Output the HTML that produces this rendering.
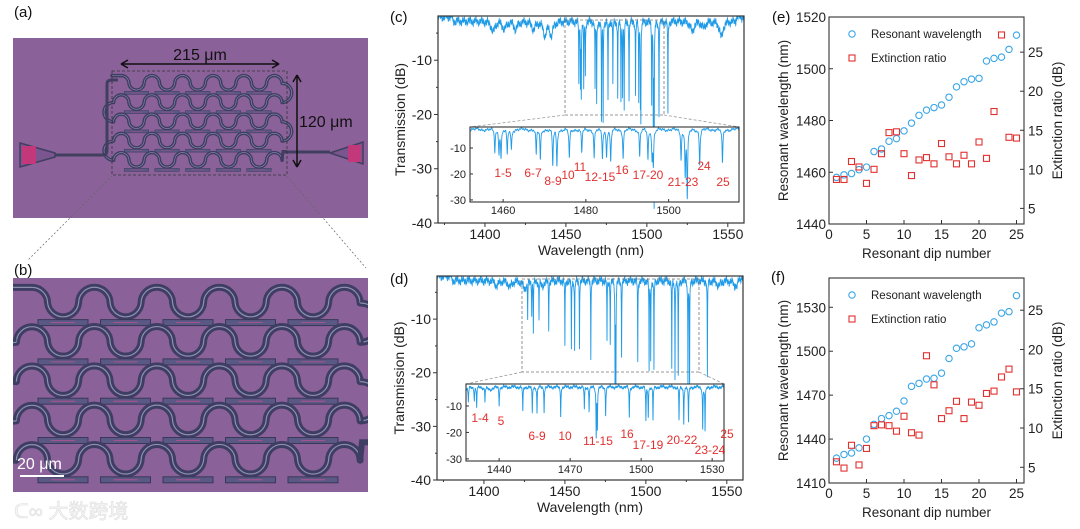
<!DOCTYPE html>
<html><head><meta charset="utf-8">
<style>
html,body{margin:0;padding:0;background:#fff;}
svg{display:block;font-family:"Liberation Sans",Arial,sans-serif;}
</style></head>
<body>
<svg id="fig" width="1080" height="529" viewBox="0 0 1080 529" xmlns="http://www.w3.org/2000/svg">
<defs>
<clipPath id="clipC"><rect x="438" y="16" width="306" height="207"/></clipPath>
<clipPath id="clipCi"><rect x="470" y="127" width="269" height="75"/></clipPath>
<clipPath id="clipD"><rect x="437" y="276" width="306" height="204"/></clipPath>
<clipPath id="clipDi"><rect x="466" y="384" width="258" height="77"/></clipPath>
<clipPath id="clipB"><rect x="13" y="278" width="355" height="214"/></clipPath>
</defs>
<g id="root"></g>
</svg>
<script>
// ---------- data ----------
const dipNumbers = [1,2,3,4,5,6,7,8,9,10,11,12,13,14,15,16,17,18,19,20,21,22,23,24,25];
const wlE = [1458,1459,1459.5,1461,1462,1468,1469,1472,1473,1476,1479,1482,1484,1485,1486,1489,1493,1495,1496,1496.3,1503,1504,1504.5,1507.5,1513];
const erE = [8.7,8.7,11,10.3,8.2,10,12,14.7,14.8,12,9.2,11.2,11.5,10.7,13.3,11.6,10.7,11.8,10.7,13.5,11.4,17.4,27.2,14.1,14];
const wlF = [1427,1429.5,1430.5,1434,1440,1450,1454,1456,1459,1466,1476,1478,1481,1481.5,1485,1495,1502,1503,1505,1516,1518,1520,1526,1527,1538];
const erF = [5.7,4.9,7.8,5.3,7.4,10.3,10.4,10.3,9.6,11.5,9.4,9.1,19.2,15.5,11.2,12.2,13.4,11.2,13.3,12.9,14.4,14.7,16.5,17.5,14.6];
const broadC = [1405,1412,1419,1430,1437,1441,1528,1535,1546];
const broadCDepth = [2,1.5,1.5,1.5,2.5,2.5,2,1.2,3];
const broadD = [1408,1416,1425,1436,1545,1556];
const broadDDepth = [1,1.2,1.5,1,1,2];
const specTicksX = [1400,1450,1500,1550];
const specTicksY = [-10,-20,-30,-40];
const insetCTicksX = [1460,1480,1500];
const insetDTicksX = [1440,1470,1500,1530];
const insetTicksY = [-10,-20,-30];
const labelsC = ["1-5","6-7","8-9","10","11","12-15","16","17-20","21-23","24","25"];
const labelsCpos = [[503,173],[533,173],[553,181],[568,175],[580,167],[600,177],[622,170],[648,175],[683,182],[704,166],[723,182]];
const labelsD = ["1-4","5","6-9","10","11-15","16","17-19","20-22","23-24","25"];
const labelsDpos = [[480,418],[501,421],[537,436],[565,436],[598,441],[627,434],[648,445],[682,440],[710,450],[727,434]];
const dipTicksX = [0,5,10,15,20,25];
const eLeftTicks = [1440,1460,1480,1500,1520];
const fLeftTicks = [1410,1440,1470,1500,1530];
const rightTicks = [5,10,15,20,25];

// ---------- helpers ----------
const NS = "http://www.w3.org/2000/svg";
const root = document.getElementById('root');
function mk(tag, attrs, parent, text){
  const e = document.createElementNS(NS, tag);
  for (const k in attrs) e.setAttribute(k, attrs[k]);
  if (text !== undefined) e.textContent = text;
  (parent || root).appendChild(e);
  return e;
}
function lin(d0,d1,r0,r1){ return v => r0 + (v-d0)*(r1-r0)/(d1-d0); }
const BLUE = "#1f9be8", RED = "#e2302f";

// ---------- micrographs ----------
function buildMesh(g){
  const R = 15.6, pitch = 39.3;
  for (let r=0;r<5;r++){
    const y0 = 303 + pitch*r;
    let segs = [];
    for (let k=0;k<5;k++){ segs.push(['u',32+62.5*k]); segs.push(['d',63+62.5*k]); }
    segs.push(['u',344.5]);
    let d;
    if (r===0) d = `M13 ${y0-R} L32 ${y0-R} A${R} ${R} 0 0 1 ${32+R} ${y0} `;
    else d = `M${32-R} ${y0} A${R} ${R} 0 0 1 ${32+R} ${y0} `;
    for (let i=1;i<segs.length;i++){
      const [t,c] = segs[i];
      d += `A${R} ${R} 0 0 ${t==='u'?1:0} ${c+R} ${y0} `;
    }
    const p = mk('path',{d:d,fill:'none',stroke:'#3e3d63','stroke-width':7,'stroke-linecap':'round'},g);
    
    
    mk('path',{d:d,fill:'none',stroke:'#8f8fb0','stroke-width':1.2},g);
    for (let k=0;k<5;k++){
      const c = 63+62.5*k;
      const pad = mk('rect',{x:c-25,y:y0+R+1,width:50,height:6,fill:'#5a5885',stroke:'#3a3858','stroke-width':1},g);
      
      
      mk('line',{x1:c-12,y1:y0+R+4,x2:c+12,y2:y0+R+4,stroke:'#c05090','stroke-width':0.8},g);
    }
    if (r<4){
      const side = (r%2===0) ? 344.5+R : 32-R;
      const rr = pitch/2;
      const dl = `M${side} ${y0} A${rr} ${rr} 0 0 ${r%2===0?1:0} ${side} ${y0+pitch}`;
      mk('path',{d:dl,fill:'none',stroke:'#3e3d63','stroke-width':7},g);
      mk('path',{d:dl,fill:'none',stroke:'#8f8fb0','stroke-width':1.2},g);
    }
  }
  mk('path',{d:`M${344.5+15.6} ${303+pitch*4} L362 ${303+pitch*4-18} L370 ${303+pitch*4-18}`,fill:'none',stroke:'#3e3d63','stroke-width':6},g);
}
// panel b
const pb = mk('g',{});
mk('rect',{x:13,y:278,width:355,height:214,fill:'#8b6199'},pb);
const mesh = mk('g',{id:'mesh','clip-path':'url(#clipB)'},pb);
buildMesh(mesh);
mk('line',{x1:20,y1:476,x2:64,y2:476,stroke:'#fff','stroke-width':2,},pb);
mk('text',{x:17,y:469,'font-size':16,fill:'#fff',},pb,'20 μm');
// panel a
const pa = mk('g',{});
mk('rect',{x:13,y:38,width:355,height:180,fill:'#8b6199'},pa);
const ua = mk('g',{transform:'translate(105.6,-65.2) scale(0.49)'},pa);
buildMesh(ua);
mk('path',{d:'M20 143 L55 153 L55 157 L20 167 Z',fill:'#7a5590',stroke:'#403f60','stroke-width':1.5},pa);
mk('rect',{x:22,y:146,width:14,height:18,fill:'#c2387a'},pa);
mk('path',{d:'M55 155 L103 155 Q107 155 107 150 L107 84 Q107 80 112 80 L118 80',fill:'none',stroke:'#403f60','stroke-width':3},pa);
mk('path',{d:'M283 152 L330 152',fill:'none',stroke:'#403f60','stroke-width':3},pa);
mk('path',{d:'M330 153 L363 142 L363 164 Z',fill:'#7a5590',stroke:'#403f60','stroke-width':1.5},pa);
mk('rect',{x:348,y:145,width:13,height:17,fill:'#c2387a'},pa);
mk('rect',{x:112,y:71,width:175,height:104,fill:'none',stroke:'#333','stroke-width':0.8,'stroke-dasharray':'3,2',},pa);
mk('path',{d:'M121 64 L279 64 M121 64 l7 -4 M121 64 l7 4 M279 64 l-7 -4 M279 64 l-7 4',stroke:'#111','stroke-width':1.5,fill:'none',},pa);
mk('text',{x:200,y:60,'font-size':16,'text-anchor':'middle',fill:'#111',},pa,'215 μm');
mk('path',{d:'M297 75 L297 167 M297 75 l-4 7 M297 75 l4 7 M297 167 l-4 -7 M297 167 l4 -7',stroke:'#111','stroke-width':1.5,fill:'none',},pa);
mk('text',{x:299,y:127,'font-size':16,fill:'#111',},pa,'120 μm');
mk('path',{d:'M112 176 L28 260 M287 176 L366 268',stroke:'#666','stroke-width':0.7,'stroke-dasharray':'2,2',fill:'none'});
// watermark
mk('text',{x:14,y:518,'font-size':20,fill:'#f6f6f6',stroke:'#dedede','stroke-width':0.6,'font-family':'"Liberation Sans","Noto Sans CJK SC",sans-serif',},root,'ᑕ∞ 大数跨境');

// panel letters
[['(a)',14,17],['(b)',14,275],['(c)',390,22],['(d)',390,284],['(e)',772,22],['(f)',771,282]].forEach(p=>{
  const t = mk('text',{x:p[1],y:p[2],'font-size':15,fill:'#111'},root,p[0]);
  
  
});

// ---------- spectra ----------
function trans(l, wls, ers, bw, bd, scale){
  let t = -2.8 + 0.35*Math.sin(l*1.7) + 0.25*Math.sin(l*5.3) + 0.3*Math.sin(l*13.1);
  if (l < 1380 || l > 1555) t += 0.8;
  for (let i=0;i<bw.length;i++){ const d=(l-bw[i])/1.2; t -= bd[i]/(1+d*d); }
  for (let i=0;i<wls.length;i++){ const d=(l-wls[i])/0.12; t -= ers[i]*scale/(1+d*d); }
  return t;
}
function drawSpectrum(g, x0,x1,px0,px1, y0,y1,py0,py1, clip, wls, ers, bw, bd, scale, step){
  const sx = lin(x0,x1,px0,px1), sy = lin(y0,y1,py0,py1);
  let d = "";
  for (let l=x0;l<=x1;l+=step){
    const v = Math.max(trans(l,wls,ers,bw,bd,scale), y0);
    d += (d?"L":"M") + sx(l).toFixed(2)+" "+sy(v).toFixed(2)+" ";
  }
  const p = mk('path',{d:d,fill:'none',stroke:BLUE,'stroke-width':0.9,'clip-path':clip},g);
  
  
}
function specPanel(name, fr, ins, box, wls, ers, bw, bd, insTicks, labels, lpos){
  const g = mk('g',{});
  
  
  const sx = lin(fr.x0,fr.x1,fr.l,fr.r), sy = lin(fr.y0,fr.y1,fr.b,fr.t);
  drawSpectrum(g, fr.x0,fr.x1,fr.l,fr.r, fr.y0,fr.y1,fr.b,fr.t, fr.clip, wls, ers, bw, bd, 1.25, 0.04);
  mk('rect',{x:fr.l,y:fr.t,width:fr.r-fr.l,height:fr.b-fr.t,fill:'none',stroke:'#333','stroke-width':1.2},g);
  specTicksY.forEach(v=>{
    mk('line',{x1:fr.l,y1:sy(v),x2:fr.l-4,y2:sy(v),stroke:'#333'},g);
    mk('line',{x1:fr.l,y1:sy(v+5),x2:fr.l-2,y2:sy(v+5),stroke:'#333'},g);
    const t = mk('text',{x:fr.l-6,y:sy(v)+5,'font-size':14,'text-anchor':'end',fill:'#222'},g,String(v));
     
  });
  specTicksX.forEach(v=>{
    mk('line',{x1:sx(v),y1:fr.b,x2:sx(v),y2:fr.b+4,stroke:'#333'},g);
    mk('line',{x1:sx(v-25),y1:fr.b,x2:sx(v-25),y2:fr.b+2,stroke:'#333'},g);
    const t = mk('text',{x:sx(v),y:fr.b+16,'font-size':14,'text-anchor':'middle',fill:'#222'},g,String(v));
     
  });
  const xt = mk('text',{x:(fr.l+fr.r)/2,y:fr.b+32,'font-size':14,'text-anchor':'middle',fill:'#222'},g,'Wavelength (nm)');
   
  const cy = (fr.t+fr.b)/2;
  const yt = mk('text',{x:0,y:0,transform:`translate(${fr.l-33},${cy}) rotate(-90)`,'font-size':14,'text-anchor':'middle',fill:'#222'},g,'Transmission (dB)');
   
  mk('rect',{x:box[0],y:box[1],width:box[2]-box[0],height:box[3]-box[1],fill:'none',stroke:'#777','stroke-width':0.8,'stroke-dasharray':'3,2'},g);
  mk('path',{d:`M${box[0]} ${box[3]} L${ins.l} ${ins.t} M${box[2]} ${box[3]} L${ins.r} ${ins.t}`,stroke:'#999','stroke-width':0.8,'stroke-dasharray':'3,2',fill:'none'},g);
  const ig = mk('g',{},g);
  
  
  mk('rect',{x:ins.l,y:ins.t,width:ins.r-ins.l,height:ins.b-ins.t,fill:'#fff'},ig);
  drawSpectrum(ig, ins.x0,ins.x1,ins.l,ins.r, ins.y0,ins.y1,ins.b,ins.t, ins.clip, wls, ers, bw, bd, 0.95, 0.01);
  mk('rect',{x:ins.l,y:ins.t,width:ins.r-ins.l,height:ins.b-ins.t,fill:'none',stroke:'#333','stroke-width':1.1},ig);
  const isx = lin(ins.x0,ins.x1,ins.l,ins.r), isy = lin(ins.y0,ins.y1,ins.b,ins.t);
  insetTicksY.forEach(v=>{
    mk('line',{x1:ins.l,y1:isy(v),x2:ins.l+3,y2:isy(v),stroke:'#333'},ig);
    mk('text',{x:ins.l-4,y:isy(v)+4,'font-size':11,'text-anchor':'end',fill:'#222'},ig,String(v));
  });
  insTicks.forEach(v=>{
    mk('line',{x1:isx(v),y1:ins.b,x2:isx(v),y2:ins.b-3,stroke:'#333'},ig);
    mk('text',{x:isx(v),y:ins.b+12,'font-size':11,'text-anchor':'middle',fill:'#222'},ig,String(v));
  });
  labels.forEach((s,i)=>{
    const t = mk('text',{x:lpos[i][0],y:lpos[i][1]+4,'font-size':12,'text-anchor':'middle',fill:RED},ig,s);
    
    
  });
}
specPanel('spectrum-c',
  {x0:1371,x1:1560,l:438,r:744,y0:-40,y1:-1.85,t:16,b:223,clip:'url(#clipC)'},
  {x0:1452,x1:1517,l:470,r:739,y0:-30.8,y1:-1.9,t:127,b:202,clip:'url(#clipCi)'},
  [565,20,664,115], wlE, erE, broadC, broadCDepth, insetCTicksX, labelsC, labelsCpos);
specPanel('spectrum-d',
  {x0:1371,x1:1560,l:437,r:743,y0:-40,y1:-1.96,t:276,b:480,clip:'url(#clipD)'},
  {x0:1426,x1:1535,l:466,r:724,y0:-30.8,y1:-1.7,t:384,b:461,clip:'url(#clipDi)'},
  [522,279,699,372], wlF, erF, broadD, broadDDepth, insetDTicksX, labelsD, labelsDpos);

// ---------- scatter panels ----------
function scatterPanel(name, fr, wl, er, leftTicks){
  const g = mk('g',{});
  
  
  const sx = lin(0,26,fr.l,fr.r), sy = lin(fr.ly0,fr.ly1,fr.b,fr.t), sr = lin(fr.ry0,fr.ry1,fr.b,fr.t);
  mk('rect',{x:fr.l,y:fr.t,width:fr.r-fr.l,height:fr.b-fr.t,fill:'none',stroke:'#333','stroke-width':1.1},g);
  leftTicks.forEach(v=>{
    mk('line',{x1:fr.l,y1:sy(v),x2:fr.l+4,y2:sy(v),stroke:'#333'},g);
    const t = mk('text',{x:fr.l-3,y:sy(v)+5,'font-size':13.5,'text-anchor':'end',fill:'#222'},g,String(v));
     
  });
  rightTicks.forEach(v=>{
    mk('line',{x1:fr.r,y1:sr(v),x2:fr.r-4,y2:sr(v),stroke:'#333'},g);
    const t = mk('text',{x:fr.r+4,y:sr(v)+5,'font-size':13.5,fill:'#222'},g,String(v));
     
  });
  dipTicksX.forEach(v=>{
    mk('line',{x1:sx(v),y1:fr.b,x2:sx(v),y2:fr.b-4,stroke:'#333'},g);
    const t = mk('text',{x:sx(v),y:fr.b+15,'font-size':13.5,'text-anchor':'middle',fill:'#222'},g,String(v));
     
  });
  const xt = mk('text',{x:(fr.l+fr.r)/2,y:fr.b+34,'font-size':13.5,'text-anchor':'middle',fill:'#222'},g,'Resonant dip number');
   
  const cy=(fr.t+fr.b)/2;
  const yl = mk('text',{transform:`translate(${fr.l-41},${cy}) rotate(-90)`,'font-size':13.5,'text-anchor':'middle',fill:'#222'},g,'Resonant wavelength (nm)');
   
  const yr = mk('text',{transform:`translate(${fr.r+38},${cy}) rotate(-90)`,'font-size':13.5,'text-anchor':'middle',fill:'#222'},g,'Extinction ratio (dB)');
   
  dipNumbers.forEach((n,i)=>{
    const c = mk('circle',{cx:sx(n),cy:sy(wl[i]),r:3.2,fill:'none',stroke:'#3aa6e6','stroke-width':1.1},g);
    
    
    const s = mk('rect',{x:sx(n)-3,y:sr(er[i])-3,width:6,height:6,fill:'none',stroke:RED,'stroke-width':1.1},g);
    
    
  });
  const lg = mk('g',{},g);
  
  
  mk('circle',{cx:fr.l+23,cy:fr.t+17,r:3.2,fill:'none',stroke:'#3aa6e6','stroke-width':1.1},lg);
  mk('text',{x:fr.l+42,y:fr.t+21,'font-size':11.5,fill:'#222'},lg,'Resonant wavelength');
  mk('rect',{x:fr.l+20,y:fr.t+38,width:6,height:6,fill:'none',stroke:RED,'stroke-width':1.1},lg);
  mk('text',{x:fr.l+42,y:fr.t+45,'font-size':11.5,fill:'#222'},lg,'Extinction ratio');
}
scatterPanel('scatter-e',{l:829,r:1024,t:17,b:224,ly0:1440,ly1:1520,ry0:3.0,ry1:29.5},wlE,erE,eLeftTicks);
scatterPanel('scatter-f',{l:829,r:1024,t:278,b:483,ly0:1410,ly1:1550,ry0:3.0,ry1:29.1},wlF,erF,fLeftTicks);
</script>
</body></html>
